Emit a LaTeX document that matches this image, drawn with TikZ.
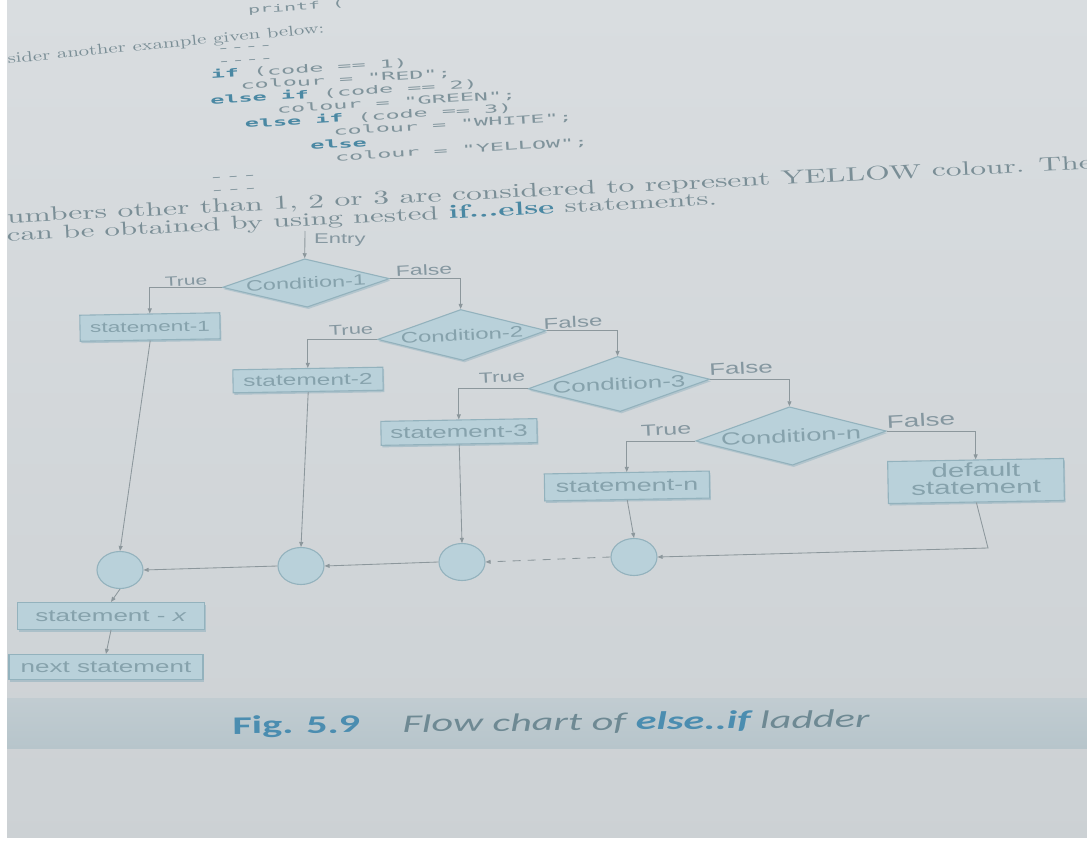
\documentclass[tikz,border=0pt]{standalone}
\usepackage{fontspec}
\usepackage{graphicx}
\setmonofont{DejaVu Sans Mono}
\newfontfamily\lblfont{Liberation Sans}
\newfontfamily\capfont{Carlito}
\usetikzlibrary{shapes.geometric,arrows.meta,shadows}

\definecolor{paperTop}{HTML}{D9DDE0}
\definecolor{paperBot}{HTML}{CCD1D4}
\definecolor{band}{HTML}{B7C5CB}
\definecolor{inkgray}{HTML}{7A8E96}
\definecolor{inkblue}{HTML}{4A88A3}
\definecolor{codegray}{HTML}{7F939B}
\definecolor{boxfill}{HTML}{B9D1DA}
\definecolor{boxline}{HTML}{93B2BD}
\definecolor{boxtext}{HTML}{86A2AC}
\definecolor{wire}{HTML}{8C979C}
\definecolor{lbltext}{HTML}{8597A0}
\definecolor{shadowc}{HTML}{8EB0BE}
\definecolor{capblue}{HTML}{4B8DB0}
\definecolor{capgray}{HTML}{6E8993}

% squashed text helpers
\newcommand{\sq}[2]{\scalebox{1}[#1]{#2}}
\newcommand{\fitw}[3]{\resizebox{#1}{!}{\scalebox{1}[#2]{#3}}}
\newcommand{\lab}[2]{{\lblfont\fontsize{#1}{#1}\selectfont\scalebox{1}[0.64]{#2}}}
\newcommand{\kw}[1]{{\color{inkblue}\bfseries #1}}
\newcommand{\codef}[1]{\ttfamily\fontsize{#1}{#1}\selectfont}
\newcommand{\ind}[1]{\hspace*{#1pt}}

\tikzset{
  fbox/.style={rectangle, draw=boxline, fill=boxfill, line width=1.1pt,
    inner sep=0pt, text=boxtext,
    drop shadow={shadow xshift=1.2pt, shadow yshift=-2pt, fill=shadowc, opacity=0.55}},
  cond/.style={diamond, draw=boxline, fill=boxfill, line width=1.1pt,
    inner sep=1pt, text=boxtext, rotate=3,
    drop shadow={shadow xshift=1.2pt, shadow yshift=-2pt, fill=shadowc, opacity=0.45}},
  joint/.style={ellipse, draw=boxline, fill=boxfill, line width=1.1pt,
    minimum width=46pt, minimum height=37pt, inner sep=0pt},
  wirearrow/.style={draw=wire, line width=0.85pt, -{Triangle[length=5pt,width=4pt]}},
  lbl/.style={text=lbltext, inner sep=0pt},
  para/.style={text=inkgray, inner sep=0pt},
  code/.style={text=codegray, inner sep=0pt},
}

\begin{document}
\begin{tikzpicture}[x=1pt, y=-1pt]
\useasboundingbox (0,0) rectangle (1087,856);
\clip (0,0) rectangle (1087,856);

% paper and caption band
\shade[top color=paperTop, bottom color=paperBot] (0,0) rectangle (1087,856);
\shade[top color=band!70!paperTop, bottom color=band] (0,698) rectangle (1087,748);

% running text above the figure
\node[code, anchor=west, rotate=4, font=\codef{20}] (pf) at (248,11) {\sq{0.5}{printf (}};
\node[para, rotate=5.6] (intro) at (166,44.5) {\fitw{318pt}{0.7}{sider another example given below:}};

% code listing, one block
\node[code, anchor=base west, rotate=3.5] (listing) at (200.4,53.3)
  {\scalebox{1}[0.47]{\codef{23.4}\fontsize{23.4}{27.4}\selectfont
   \begin{tabular}[t]{@{}l@{}}
   \ind{16}----\\
   \ind{16}----\\
   \ind{9}\kw{if} (code == 1)\\
   \ind{38}colour = "RED";\\
   \ind{7}\kw{else if} (code == 2)\\
   \ind{73}colour = "GREEN";\\
   \ind{40}\kw{else if} (code == 3)\\
   \ind{128}colour = "WHITE";\\
   \ind{104}\kw{else}\\
   \ind{128}colour = "YELLOW";\\
   \scalebox{1.18}[1]{---}\\
   \scalebox{1.18}[1]{---}
   \end{tabular}}};

\node[para, rotate=2.85] (p1) at (550,191)
  {\fitw{1087pt}{0.62}{umbers other than 1, 2 or 3 are considered to represent YELLOW colour. The}};
\node[para, rotate=2.95] (p2) at (362,218.5)
  {\fitw{711pt}{0.62}{can be obtained by using nested {\color{inkblue}\bfseries if...else} statements.}};

% decisions
\node[cond, minimum width=162pt, minimum height=47pt, aspect=3.45] (c1) at (306,283) {\lab{23.5}{Condition-1}};
\node[cond, minimum width=169pt, minimum height=51pt, aspect=3.3]  (c2) at (462,335) {\lab{24}{Condition-2}};
\node[cond, minimum width=174pt, minimum height=53pt, aspect=3.3]  (c3) at (619,384) {\lab{26}{Condition-3}};
\node[cond, minimum width=189pt, minimum height=58pt, aspect=3.26] (cn) at (791,436) {\lab{27.4}{Condition-n}};

% statements
\node[fbox, rotate=1, minimum width=140pt, minimum height=26pt] (s1) at (150,327) {\lab{22.7}{statement-1}};
\node[fbox, rotate=1, minimum width=150pt, minimum height=23pt] (s2) at (308,380) {\lab{24.5}{statement-2}};
\node[fbox, rotate=1, minimum width=156pt, minimum height=24pt] (s3) at (459,432) {\lab{26}{statement-3}};
\node[fbox, rotate=1, minimum width=165pt, minimum height=27pt] (sn) at (627,486) {\lab{27}{statement-n}};
\node[fbox, rotate=1, minimum width=176pt, minimum height=42pt] (sd) at (976,481)
  {{\lblfont\fontsize{29.5}{26.5}\selectfont\scalebox{1}[0.64]{\begin{tabular}{@{}c@{}}default\\statement\end{tabular}}}};
\node[fbox, minimum width=187pt, minimum height=27pt] (sx) at (111,616) {\lab{26}{statement - \textit{x}}};
\node[fbox, minimum width=194pt, minimum height=25pt] (nx) at (106,667) {\lab{26}{next statement}};

% junctions
\node[joint] (j1) at (120,570) {};
\node[joint] (j2) at (301,566) {};
\node[joint] (j3) at (462,562) {};
\node[joint] (j4) at (634,557) {};

% branch labels
\node[lbl, anchor=west] (entry) at (314,240) {\lab{22}{Entry}};
\node[lbl, rotate=3] (lt1) at (186,281) {\lab{21}{True}};
\node[lbl, rotate=3] (lf1) at (424,270) {\lab{23}{False}};
\node[lbl, rotate=3] (lt2) at (351,330) {\lab{22}{True}};
\node[lbl, rotate=3] (lf2) at (573,322) {\lab{24}{False}};
\node[lbl, rotate=3] (lt3) at (502,377) {\lab{23}{True}};
\node[lbl, rotate=3] (lf3) at (741,368) {\lab{26}{False}};
\node[lbl, rotate=3] (ltn) at (666,430) {\lab{25}{True}};
\node[lbl, rotate=3] (lfn) at (921,420) {\lab{28}{False}};

\coordinate (start) at (305,231);
\coordinate (bend) at (988,548);

% connectors
\draw[wirearrow] (start) -- (c1.north);
\draw[wirearrow] (c1.west) -| (s1.north);
\draw[wirearrow] (c1.east) -| (c2.north);
\draw[wirearrow] (c2.west) -| (s2.north);
\draw[wirearrow] (c2.east) -| (c3.north);
\draw[wirearrow] (c3.west) -| (s3.north);
\draw[wirearrow] (c3.east) -| (cn.north);
\draw[wirearrow] (cn.west) -| (sn.north);
\draw[wirearrow] (cn.east) -| (sd.north);
\draw[wirearrow] (s1.south) -- (j1.north);
\draw[wirearrow] (s2.south) -- (j2.north);
\draw[wirearrow] (s3.south) -- (j3.north);
\draw[wirearrow] (sn.south) -- (j4.north);
\draw[wirearrow] (sd.south) -- (bend) -- (j4.east);
\draw[wirearrow, dash pattern=on 8pt off 7pt] (j4.west) -- (j3.east);
\draw[wirearrow] (j3.west) -- (j2.east);
\draw[wirearrow] (j2.west) -- (j1.east);
\draw[wirearrow] (j1.south) -- (sx.north);
\draw[wirearrow] (sx.south) -- (nx.north);

% caption
\node[inner sep=0pt, rotate=0.6] (cap) at (551,724)
  {\fitw{637pt}{0.6}{\capfont\fontsize{10}{10}\selectfont
    {\color{capblue}\bfseries Fig. 5.9}\hspace{1em}{\color{capgray}\itshape Flow chart of
    {\bfseries\color{capblue}else..if} ladder}}};

% page margins
\fill[white] (0,0) rectangle (7,856);
\fill[white] (0,838) rectangle (1087,856);
\end{tikzpicture}
\end{document}
